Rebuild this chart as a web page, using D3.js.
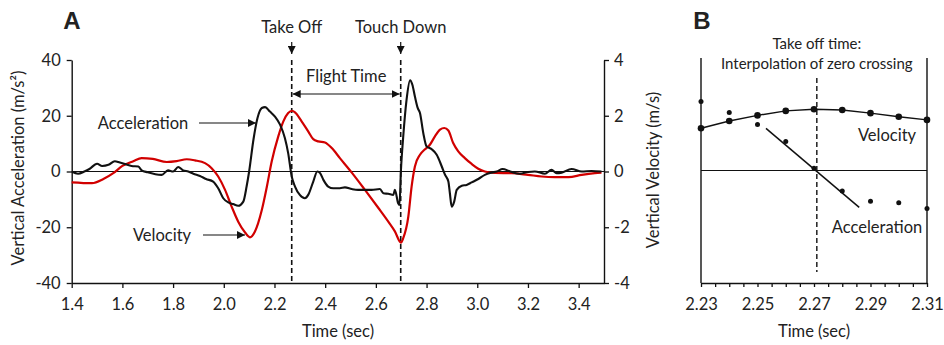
<!DOCTYPE html>
<html>
<head>
<meta charset="utf-8">
<script src="https://cdn.jsdelivr.net/npm/d3@7"></script>
<style>
  body { margin: 0; background: #fff; }
  svg { display: block; }
  text { font-family: Lato, "Open Sans", sans-serif; fill: #222; }
</style>
</head>
<body>
<svg id="chart" width="944" height="345"></svg>
<script>
// ---- Panel A: jump trace ----
const accTime = [1.40,1.425,1.45,1.47,1.50,1.52,1.545,1.57,1.59,1.61,1.636,1.663,1.676,1.70,1.73,1.755,1.78,1.80,1.82,1.84,1.86,1.88,1.906,1.93,1.958,1.978,1.998,2.018,2.037,2.057,2.077,2.09,2.10,2.117,2.133,2.15,2.163,2.182,2.202,2.222,2.241,2.254,2.268,2.281,2.30,2.32,2.333,2.353,2.369,2.38,2.393,2.412,2.432,2.458,2.478,2.505,2.53,2.557,2.583,2.616,2.63,2.649,2.669,2.675,2.688,2.693,2.699,2.708,2.721,2.735,2.744,2.754,2.765,2.774,2.787,2.80,2.82,2.84,2.86,2.873,2.886,2.892,2.899,2.909,2.919,2.939,2.958,2.978,3.004,3.03,3.057,3.077,3.10,3.13,3.168,3.20,3.227,3.267,3.293,3.313,3.333,3.372,3.412,3.451,3.49];
const accValues = [0,-0.8,0,0.9,2.8,2.0,2.4,3.7,3.2,2.7,2.0,1.8,0.4,-0.3,-1.0,-1.2,0.4,0.0,1.6,0.4,0.0,-0.8,-1.6,-2.7,-3.6,-6.0,-9.6,-11.1,-11.7,-12.3,-10.8,-5.4,0,11.4,19.2,22.8,23.1,21.5,19.7,16.8,12.0,6.6,-1.8,-5.4,-8.4,-9.6,-8.4,-3.6,0,-0.6,-3.0,-5.4,-6.0,-6.0,-5.7,-6.3,-6.6,-6.6,-6.6,-6.3,-7.8,-8.0,-8.4,-6.6,-11.4,-12.0,0.6,12.6,25.7,32.7,31.1,26.9,22.8,21.0,13.8,9.0,8.0,6.0,1.8,-1.2,-3.6,-7.8,-12.6,-10.8,-6.6,-5.1,-4.8,-3.9,-2.7,-1.2,-0.4,0,0.9,0,-0.8,-0.2,0,-0.8,0.6,-0.6,-0.4,0.9,0,0.2,0];

const velTime = [1.40,1.48,1.525,1.564,1.60,1.643,1.676,1.72,1.775,1.814,1.854,1.886,1.926,1.952,1.978,2.005,2.031,2.057,2.084,2.103,2.123,2.15,2.17,2.189,2.215,2.235,2.254,2.27,2.281,2.307,2.333,2.353,2.373,2.399,2.426,2.458,2.505,2.557,2.61,2.649,2.675,2.699,2.708,2.728,2.741,2.754,2.774,2.794,2.813,2.833,2.853,2.87,2.886,2.905,2.925,2.951,2.978,3.004,3.03,3.07,3.136,3.20,3.254,3.306,3.36,3.412,3.464,3.49];
const velValues = [-0.39,-0.42,-0.27,-0.06,0.20,0.37,0.48,0.45,0.34,0.37,0.44,0.40,0.30,0.12,-0.18,-0.66,-1.26,-1.80,-2.19,-2.36,-2.15,-1.38,-0.54,0.36,1.26,1.80,2.10,2.18,2.12,1.80,1.44,1.16,1.08,1.04,0.84,0.48,-0.04,-0.66,-1.31,-1.80,-2.15,-2.55,-2.39,-1.62,-0.54,0.18,0.60,0.80,0.96,1.26,1.50,1.56,1.47,1.02,0.72,0.48,0.27,0.10,0.00,-0.05,-0.06,-0.12,-0.18,-0.20,-0.20,-0.12,-0.06,-0.04];

const timeTicksA = [1.4,1.6,1.8,2.0,2.2,2.4,2.6,2.8,3.0,3.2,3.4];
const accTicks = [-40,-20,0,20,40];
const velTicks = [-4,-2,0,2,4];
const takeOffTime = 2.268;
const touchDownTime = 2.698;

// ---- Panel B: take-off detail ----
const bTime = [2.23,2.24,2.25,2.26,2.27,2.28,2.29,2.30,2.31];
const bVelocity = [1.50,1.76,1.96,2.12,2.18,2.15,2.04,1.91,1.80];
const bAcceleration = [2.45,2.06,1.64,1.03,0.08,-0.73,-1.09,-1.15,-1.35];
const bFitTime = [2.253,2.286];
const bFitValue = [1.50,-1.31];
const bTakeOff = 2.271;
const bTicks = d3.range(0,17).map(i => +(2.23 + i*0.005).toFixed(3));
const bLabelTicks = [2.23,2.25,2.27,2.29,2.31];

const svg = d3.select("#chart");
const RED = "#d10000", INK = "#111";
const FS = 16.5;
const FONT = "Lato, 'Open Sans', sans-serif";
const hyphen = f => d => f(d).replace("\u2212","-");

// arrowhead marker
const defs = svg.append("defs");
defs.append("marker").attr("id","arrow").attr("viewBox","0 0 10 10")
  .attr("refX",10).attr("refY",5).attr("markerWidth",8).attr("markerHeight",8)
  .attr("markerUnits","userSpaceOnUse").attr("orient","auto-start-reverse")
  .append("path").attr("d","M0,0L10,5L0,10z").attr("fill",INK);

// ---------- Panel A ----------
const xA = d3.scaleLinear().domain([1.4,3.5]).range([71.7,604]);
const yAcc = d3.scaleLinear().domain([-40,40]).range([283,60]);
const yVel = d3.scaleLinear().domain([-4,4]).range([283,60]);

function styleAxis(g){
  g.selectAll("path.domain").attr("stroke",INK).attr("stroke-width",1.4);
  g.selectAll(".tick line").attr("stroke",INK).attr("stroke-width",1.3);
  g.selectAll(".tick text").style("font-family",FONT)
    .style("font-size",FS+"px").attr("fill","#222");
}

svg.append("g").attr("transform","translate(0,283)")
  .call(d3.axisBottom(xA).tickValues(timeTicksA).tickFormat(d3.format(".1f"))
    .tickSize(5).tickSizeOuter(0).tickPadding(10))
  .call(styleAxis);
svg.append("g").attr("transform","translate(71.7,0)")
  .call(d3.axisLeft(yAcc).tickValues(accTicks).tickFormat(hyphen(d3.format("d")))
    .tickSize(5).tickSizeOuter(0).tickPadding(6))
  .call(styleAxis);
svg.append("g").attr("transform","translate(604,0)")
  .call(d3.axisRight(yVel).tickValues(velTicks).tickFormat(hyphen(d3.format("d")))
    .tickSize(5).tickSizeOuter(0).tickPadding(5))
  .call(styleAxis);

// zero line
svg.append("line").attr("x1",xA(1.4)).attr("x2",xA(3.5))
  .attr("y1",yAcc(0)).attr("y2",yAcc(0)).attr("stroke",INK).attr("stroke-width",1.1);

// take-off / touch-down markers
[takeOffTime, touchDownTime].forEach(t => {
  svg.append("line").attr("x1",xA(t)).attr("x2",xA(t)).attr("y1",60).attr("y2",283)
    .attr("stroke",INK).attr("stroke-width",1.6).attr("stroke-dasharray","5,3");
  svg.append("line").attr("x1",xA(t)).attr("x2",xA(t)).attr("y1",42).attr("y2",54)
    .attr("stroke",INK).attr("stroke-width",1.2).attr("marker-end","url(#arrow)");
});

const velLine = d3.line().x((d,i)=>xA(velTime[i])).y(d=>yVel(d)).curve(d3.curveMonotoneX);
svg.append("path").datum(velValues).attr("d",velLine)
  .attr("fill","none").attr("stroke",RED).attr("stroke-width",2.2);

const accLine = d3.line().x((d,i)=>xA(accTime[i])).y(d=>yAcc(d)).curve(d3.curveMonotoneX);
svg.append("path").datum(accValues).attr("d",accLine)
  .attr("fill","none").attr("stroke",INK).attr("stroke-width",2.1);

// flight time span
svg.append("line").attr("x1",xA(takeOffTime)+1).attr("x2",xA(touchDownTime)-1)
  .attr("y1",94).attr("y2",94).attr("stroke",INK).attr("stroke-width",1.1)
  .attr("marker-start","url(#arrow)").attr("marker-end","url(#arrow)");

function label(x,y,txt,anchor="middle",size=FS){
  return svg.append("text").attr("x",x).attr("y",y).attr("text-anchor",anchor)
    .attr("dominant-baseline","central").style("font-size",size+"px").text(txt);
}
label(xA(takeOffTime),27,"Take Off");
label(xA(touchDownTime),27,"Touch Down");
label((xA(takeOffTime)+xA(touchDownTime))/2,76,"Flight Time");

label(143,123,"Acceleration");
svg.append("line").attr("x1",199).attr("x2",256).attr("y1",123).attr("y2",123)
  .attr("stroke",INK).attr("stroke-width",1.2).attr("marker-end","url(#arrow)");
label(162,235,"Velocity");
svg.append("line").attr("x1",203).attr("x2",245).attr("y1",235).attr("y2",235)
  .attr("stroke",INK).attr("stroke-width",1.2).attr("marker-end","url(#arrow)");

label(338,331,"Time (sec)");
svg.append("text").attr("transform","translate(18,168) rotate(-90)")
  .attr("text-anchor","middle").attr("dominant-baseline","central")
  .style("font-size",FS+"px").text("Vertical Acceleration (m/s²)");
svg.append("text").attr("transform","translate(653,170) rotate(-90)")
  .attr("text-anchor","middle").attr("dominant-baseline","central")
  .style("font-size",FS+"px").text("Vertical Velocity (m/s)");

svg.append("text").attr("x",72).attr("y",29).attr("text-anchor","middle")
  .style("font-family","'Liberation Sans', Arial, sans-serif").style("font-weight","bold")
  .style("font-size","24px").text("A");

// ---------- Panel B ----------
const xB = d3.scaleLinear().domain([2.23,2.31]).range([701,927]);
const yB = d3.scaleLinear().domain([-4,4]).range([283,58]);

svg.append("g").attr("transform","translate(0,283)")
  .call(d3.axisBottom(xB).tickValues(bTicks)
    .tickFormat(d => bLabelTicks.some(v => Math.abs(v-d)<1e-6) ? d3.format(".2f")(d) : "")
    .tickSize(4).tickSizeOuter(0).tickPadding(11))
  .call(styleAxis);
[2.23,2.31].forEach(t => {
  svg.append("line").attr("x1",xB(t)).attr("x2",xB(t)).attr("y1",58).attr("y2",283)
    .attr("stroke",INK).attr("stroke-width",1.4);
});
svg.append("line").attr("x1",xB(2.23)).attr("x2",xB(2.31))
  .attr("y1",yB(0)).attr("y2",yB(0)).attr("stroke",INK).attr("stroke-width",1.1);
svg.append("line").attr("x1",xB(bTakeOff)).attr("x2",xB(bTakeOff)).attr("y1",78).attr("y2",272)
  .attr("stroke",INK).attr("stroke-width",1.4).attr("stroke-dasharray","5,3");

const bVelLine = d3.line().x((d,i)=>xB(bTime[i])).y(d=>yB(d));
svg.append("path").datum(bVelocity).attr("d",bVelLine)
  .attr("fill","none").attr("stroke",INK).attr("stroke-width",1.5);
svg.append("g").selectAll("circle").data(bVelocity).join("circle")
  .attr("cx",(d,i)=>xB(bTime[i])).attr("cy",d=>yB(d)).attr("r",3.3).attr("fill",INK);

const bFitLine = d3.line().x((d,i)=>xB(bFitTime[i])).y(d=>yB(d));
svg.append("path").datum(bFitValue).attr("d",bFitLine)
  .attr("fill","none").attr("stroke",INK).attr("stroke-width",1.5);
svg.append("g").selectAll("circle").data(bAcceleration).join("circle")
  .attr("cx",(d,i)=>xB(bTime[i])).attr("cy",d=>yB(d)).attr("r",2.5).attr("fill",INK);

label(xB(bTakeOff),43,"Take off time:","middle",15);
label(xB(bTakeOff),63,"Interpolation of zero crossing","middle",15);
label(887,135,"Velocity");
label(877,227,"Acceleration");
label(xB(2.27),331,"Time (sec)");

svg.append("text").attr("x",702).attr("y",29).attr("text-anchor","middle")
  .style("font-family","'Liberation Sans', Arial, sans-serif").style("font-weight","bold")
  .style("font-size","24px").text("B");
</script>
</body>
</html>
